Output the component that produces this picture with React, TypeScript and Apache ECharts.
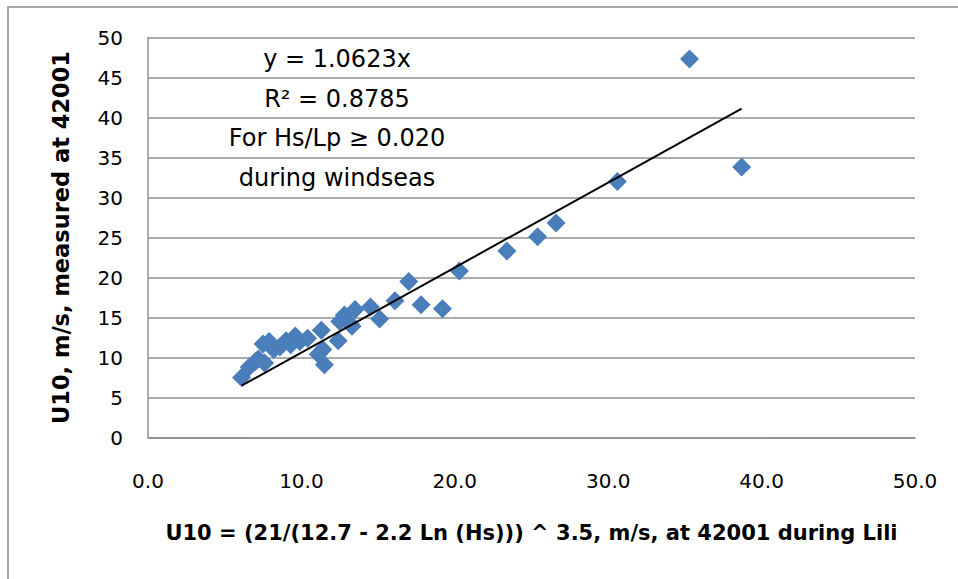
import React, { useEffect, useRef } from "react";
import * as echarts from "echarts";

// Modelled U10 (x) and measured U10 (y), m/s
const modelU10 = [
  6.1, 6.6, 7.0, 7.2, 7.6, 7.5, 7.9, 8.2, 8.6, 9.0, 9.3, 9.6, 9.9, 10.4,
  11.1, 11.3, 11.4, 11.5, 12.4, 12.5, 12.8, 13.2, 13.3, 13.5, 14.5, 15.1,
  16.1, 17.0, 17.8, 19.2, 20.3, 23.4, 25.4, 26.6, 30.6, 35.3, 38.7,
];
const measuredU10 = [
  7.5, 8.8, 9.5, 9.8, 9.3, 11.7, 12.0, 11.0, 11.3, 12.1, 11.6, 12.7, 12.0, 12.4,
  10.4, 13.4, 11.0, 9.1, 12.1, 14.5, 15.3, 14.2, 13.9, 16.0, 16.3, 14.8,
  17.1, 19.5, 16.6, 16.1, 20.8, 23.3, 25.1, 26.8, 32.0, 47.3, 33.8,
];
const trendSlope = 1.0623;
const annotationLines = [
  "y = 1.0623x",
  "R\u00B2 = 0.8785",
  "For Hs/Lp \u2265 0.020",
  "during windseas",
];
const xTitle = "U10 = (21/(12.7 - 2.2 Ln (Hs))) ^ 3.5, m/s, at 42001 during Lili";
const yTitle = "U10, m/s, measured at 42001";

export default function App() {
  const ref = useRef<HTMLDivElement>(null);
  useEffect(() => {
    document.body.style.margin = "0";
    const chart = echarts.init(ref.current!, undefined, { renderer: "svg" });
    const points = modelU10.map((x, i) => [x, measuredU10[i]]);
    const xMin = Math.min(...modelU10);
    const xMax = Math.max(...modelU10);
    const trend = [
      [xMin, xMin * trendSlope],
      [xMax, xMax * trendSlope],
    ];
    const font = "DejaVu Sans";
    const gridColor = "#8f8f8f";
    chart.setOption({
      animation: false,
      backgroundColor: "#ffffff",
      textStyle: { fontFamily: font },
      grid: { left: 148, right: 43, top: 37.5, bottom: 141.5 },
      xAxis: {
        type: "value",
        min: 0,
        max: 50,
        interval: 10,
        splitLine: { show: false },
        axisTick: { show: false },
        axisLine: { show: true, lineStyle: { color: gridColor, width: 1.5 } },
        axisLabel: {
          color: "#000",
          fontSize: 20,
          fontFamily: font,
          margin: 33,
          formatter: (v: number) => v.toFixed(1),
        },
        name: xTitle,
        nameLocation: "middle",
        nameGap: 85,
        nameTextStyle: { color: "#000", fontSize: 21, fontWeight: "bold", fontFamily: font },
      },
      yAxis: {
        type: "value",
        min: 0,
        max: 50,
        interval: 5,
        splitLine: { show: true, lineStyle: { color: gridColor, width: 1.5 } },
        axisTick: { show: false },
        axisLine: { show: true, lineStyle: { color: gridColor, width: 1.5 } },
        axisLabel: { color: "#000", fontSize: 20, fontFamily: font, margin: 25 },
        name: yTitle,
        nameLocation: "middle",
        nameGap: 76,
        nameTextStyle: { color: "#000", fontSize: 22.5, fontWeight: "bold", fontFamily: font },
      },
      graphic: [
        {
          type: "rect",
          silent: true,
          shape: { x: 8, y: 7, width: 1200, height: 1200 },
          style: { fill: "none", stroke: "#a6a6a6", lineWidth: 2 },
        },
        ...annotationLines.map((t, i) => ({
          type: "text",
          x: 337,
          y: [59, 99, 138, 178][i],
          style: {
            text: t,
            fontSize: 24,
            fontFamily: font,
            fill: "#000",
            align: "center",
            verticalAlign: "middle",
          },
        })),
      ],
      series: [
        {
          type: "scatter",
          data: points,
          symbol: "diamond",
          symbolSize: 19,
          itemStyle: { color: "#4A7EBB", opacity: 1 },
          z: 2,
        },
        {
          type: "line",
          data: trend,
          showSymbol: false,
          symbol: "none",
          lineStyle: { color: "#000", width: 2 },
          z: 3,
        },
      ],
    });
    return () => chart.dispose();
  }, []);
  return <div ref={ref} style={{ width: 958, height: 579 }} />;
}
